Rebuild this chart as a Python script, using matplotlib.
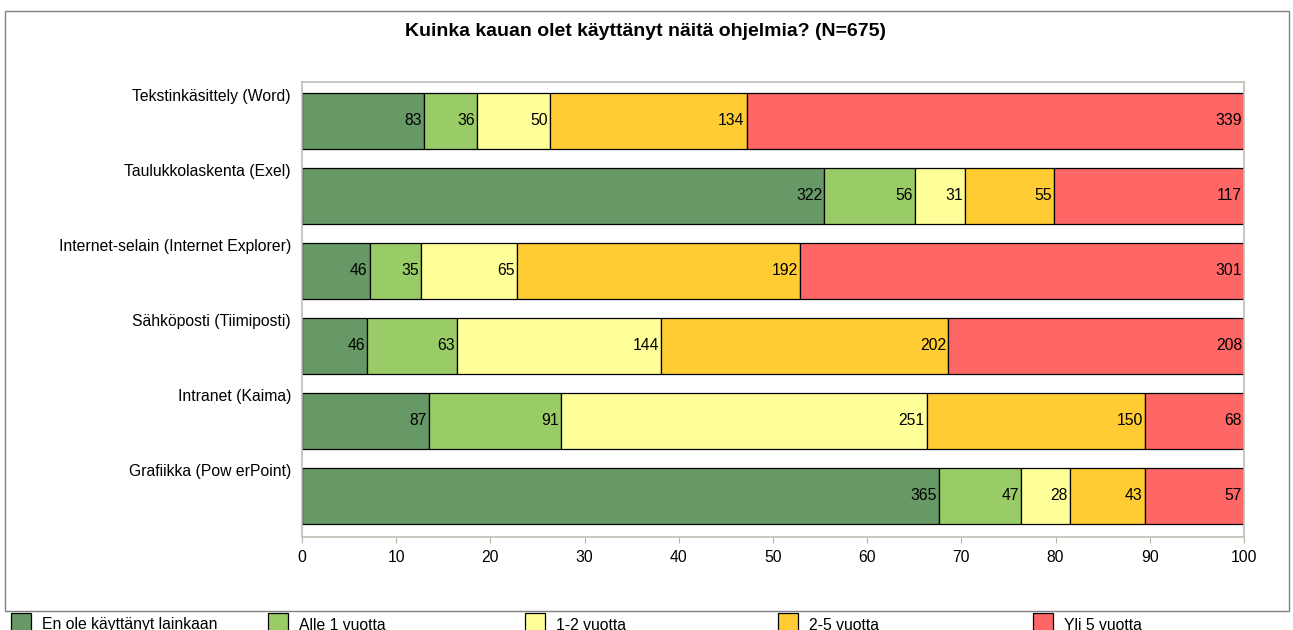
import matplotlib
matplotlib.use("Agg")
import matplotlib.pyplot as plt
from matplotlib.patches import Rectangle
import numpy as np

plt.rcParams['font.family'] = ['Liberation Sans', 'DejaVu Sans']

title = "Kuinka kauan olet käyttänyt näitä ohjelmia? (N=675)"
categories = ["Tekstinkäsittely (Word)", "Taulukkolaskenta (Exel)",
              "Internet-selain (Internet Explorer)", "Sähköposti (Tiimiposti)",
              "Intranet (Kaima)", "Grafiikka (Pow erPoint)"]
series = ["En ole käyttänyt lainkaan", "Alle 1 vuotta", "1-2 vuotta",
          "2-5 vuotta", "Yli 5 vuotta"]
counts = [
    [83, 36, 50, 134, 339],
    [322, 56, 31, 55, 117],
    [46, 35, 65, 192, 301],
    [46, 63, 144, 202, 208],
    [87, 91, 251, 150, 68],
    [365, 47, 28, 43, 57],
]
colors = ["#669966", "#99cc66", "#ffff99", "#ffcc33", "#ff6666"]
xticks = [0, 10, 20, 30, 40, 50, 60, 70, 80, 90, 100]

W, H = 1293, 630
FS = 11.3
fig = plt.figure(figsize=(W / 100, H / 100), dpi=100)
fig.patch.set_facecolor("white")

# outer frame
fig.patches.append(Rectangle((5 / W, 1 - 611 / H), (1289 - 5) / W, (611 - 11) / H,
                             transform=fig.transFigure, fill=False,
                             edgecolor="#808080", linewidth=1.0))

ax = fig.add_axes([302 / W, 1 - 537 / H, (1244 - 302) / W, (537 - 82) / H])

data = np.array(counts, dtype=float)
pct = data / data.sum(axis=1, keepdims=True) * 100
y = np.arange(len(categories))
left = np.zeros(len(categories))
for j, name in enumerate(series):
    bars = ax.barh(y, pct[:, j], left=left, height=0.75, color=colors[j],
                   edgecolor="black", linewidth=0.9, label=name)
    for i, b in enumerate(bars):
        ax.annotate(str(counts[i][j]), (left[i] + pct[i, j], y[i]),
                    xytext=(-1.5, 0), textcoords="offset points",
                    ha="right", va="center", fontsize=FS, color="black")
    left += pct[:, j]

ax.set_xlim(0, 100)
ax.set_ylim(len(categories) - 0.45, -0.52)
ax.set_xticks(xticks)
ax.set_xticklabels([str(t) for t in xticks], fontsize=FS)
ax.set_yticks(y - 0.34)
ax.set_yticklabels(categories, fontsize=FS)
ax.tick_params(axis="y", length=0, pad=8)
ax.tick_params(axis="x", length=4, color="#b8b4a8", pad=5)
for s in ax.spines.values():
    s.set_color("#c0bdb5")
    s.set_linewidth(1.2)

fig.text(0.5 * (400 + 891) / W, 1 - 32 / H, title, ha="center", va="center",
         fontsize=14, fontweight="bold")

# legend along bottom
leg_x = [11, 268, 525, 778, 1033]
for j, name in enumerate(series):
    fig.patches.append(Rectangle((leg_x[j] / W, 1 - 633 / H), 20 / W, 20 / H,
                                 transform=fig.transFigure, facecolor=colors[j],
                                 edgecolor="black", linewidth=0.9))
    fig.text((leg_x[j] + 31) / W, 1 - 625 / H, name, ha="left", va="center",
             fontsize=FS)

fig.savefig("out.png", dpi=100)
